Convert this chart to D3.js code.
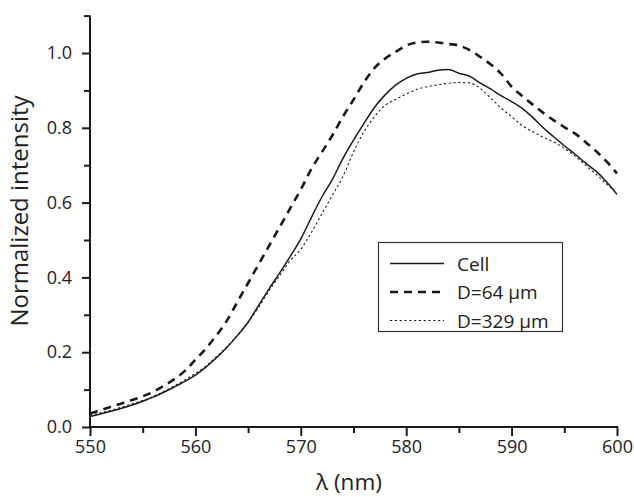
<!DOCTYPE html>
<html><head><meta charset="utf-8">
<script src="https://cdn.jsdelivr.net/npm/d3@7"></script>
<style>body{margin:0;background:#fff}svg{display:block}text{font-family:"Open Sans",sans-serif;fill:#222}</style>
</head><body>
<svg id="c" width="634" height="497"></svg>
<script>
const wavelengths = d3.range(550, 601, 1);
const cell = [0.028,0.035,0.042,0.050,0.059,0.069,0.080,0.093,0.107,0.122,
0.139,0.160,0.185,0.213,0.245,0.280,0.325,0.370,0.412,0.456,
0.503,0.560,0.615,0.662,0.718,0.767,0.812,0.855,0.888,0.914,
0.932,0.944,0.948,0.954,0.956,0.946,0.938,0.920,0.904,0.886,
0.870,0.852,0.828,0.800,0.776,0.752,0.730,0.706,0.684,0.656,0.622];
const d64 = [0.036,0.045,0.054,0.063,0.072,0.082,0.094,0.110,0.128,0.150,
0.180,0.210,0.245,0.285,0.335,0.385,0.435,0.485,0.535,0.585,
0.635,0.690,0.735,0.780,0.830,0.875,0.922,0.960,0.985,1.003,
1.020,1.028,1.030,1.028,1.024,1.020,1.008,0.990,0.970,0.945,
0.910,0.885,0.862,0.840,0.820,0.802,0.785,0.762,0.738,0.710,0.678];
const d329 = [0.032,0.038,0.045,0.053,0.062,0.071,0.082,0.095,0.110,0.126,
0.143,0.163,0.188,0.215,0.246,0.280,0.320,0.365,0.405,0.445,
0.475,0.520,0.570,0.620,0.670,0.735,0.790,0.830,0.860,0.876,
0.890,0.903,0.910,0.915,0.919,0.921,0.920,0.906,0.880,0.853,
0.830,0.806,0.790,0.775,0.762,0.745,0.725,0.700,0.676,0.650,0.625];
const xTicks = [550,560,570,580,590,600];
const xMinor = [555,565,575,585,595];
const yTicks = [0,0.2,0.4,0.6,0.8,1.0];
const yMinor = [0.1,0.3,0.5,0.7,0.9,1.1];
const seriesNames = ["Cell","D=64 µm","D=329 µm"];

const svg = d3.select("#c");
const x = d3.scaleLinear().domain([550,600]).range([90,617]);
const y = d3.scaleLinear().domain([0,1.1]).range([427,15.6]);

const ink = "#1a1a1a";
const gx2 = svg.append("g").attr("transform","translate(0,427)")
  .call(d3.axisBottom(x).tickValues(xMinor).tickSize(6).tickFormat(""));
const gy2 = svg.append("g").attr("transform","translate(90,0)")
  .call(d3.axisLeft(y).tickValues(yMinor).tickSize(6).tickFormat(""));
const gx = svg.append("g").attr("transform","translate(0,427)")
  .call(d3.axisBottom(x).tickValues(xTicks).tickSize(9).tickPadding(4).tickFormat(d3.format("d")));
const gy = svg.append("g").attr("transform","translate(90,0)")
  .call(d3.axisLeft(y).tickValues(yTicks).tickSize(8).tickPadding(10).tickFormat(d3.format(".1f")));
[gx,gy,gx2,gy2].forEach(g=>{
  g.select(".domain").remove();
  g.selectAll("line").attr("stroke",ink).attr("stroke-width",2);
  g.selectAll("text").style("font-size","18px").attr("fill",ink);
});
svg.append("line").attr("x1",90).attr("x2",90).attr("y1",y(1.1)).attr("y2",428).attr("stroke",ink).attr("stroke-width",2);
svg.append("line").attr("x1",89).attr("x2",618).attr("y1",427).attr("y2",427).attr("stroke",ink).attr("stroke-width",2);

const line = vals => d3.line().x((d,i)=>x(wavelengths[i])).y(d=>y(d)).curve(d3.curveMonotoneX)(vals);
const styles = [
  {w:1.5, dash:null},
  {w:2.6, dash:"8,6"},
  {w:1.1, dash:"2.2,2.6"}
];
[cell,d64,d329].forEach((vals,k)=>{
  svg.append("path").attr("d",line(vals)).attr("fill","none").attr("stroke",ink)
    .attr("stroke-width",styles[k].w).attr("stroke-dasharray",styles[k].dash);
});

svg.append("text").attr("x",349).attr("y",490).attr("text-anchor","middle")
  .style("font-size","22.5px").text("λ (nm)");
svg.append("text").attr("transform","translate(28,211) rotate(-90)").attr("text-anchor","middle")
  .style("font-size","24px").text("Normalized intensity");

const lg = svg.append("g");
lg.append("rect").attr("x",378.5).attr("y",242.5).attr("width",184).attr("height",89)
  .attr("fill","#fff").attr("stroke","#333").attr("stroke-width",1.2);
seriesNames.forEach((n,k)=>{
  const yy = 263.5 + k*28.5;
  lg.append("line").attr("x1",390).attr("x2",444).attr("y1",yy).attr("y2",yy)
    .attr("stroke",ink).attr("stroke-width",styles[k].w).attr("stroke-dasharray",styles[k].dash);
  lg.append("text").attr("x",457).attr("y",yy+7).style("font-size","19px").text(n);
});
</script>
</body></html>
